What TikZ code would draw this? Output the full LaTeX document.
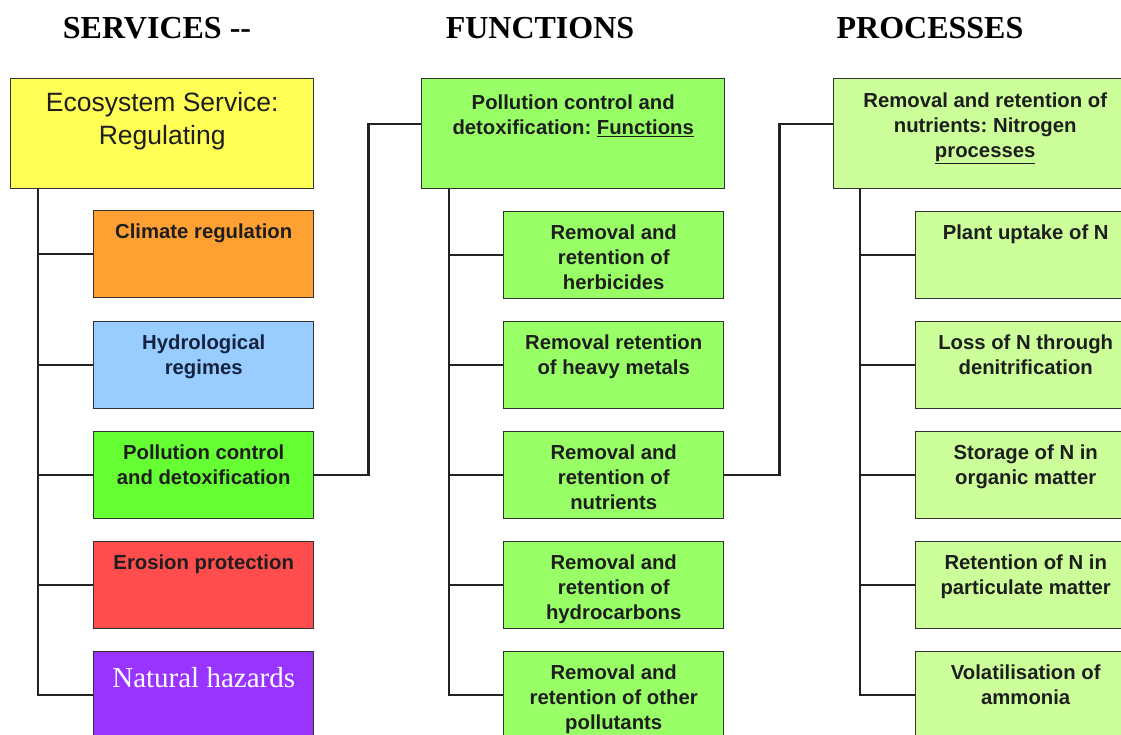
\documentclass[tikz,border=0pt]{standalone}
\usepackage{fontspec}
\setmainfont{Liberation Serif}
\newfontfamily\arialfont{Liberation Sans}
\frenchspacing

\definecolor{svcyellow}{HTML}{FFFF55}
\definecolor{climorange}{HTML}{FFA033}
\definecolor{hydroblue}{HTML}{99CCFF}
\definecolor{pollgreen}{HTML}{66FF33}
\definecolor{erosred}{HTML}{FF4D4D}
\definecolor{hazpurple}{HTML}{9933FF}
\definecolor{fungreen}{HTML}{99FF66}
\definecolor{procgreen}{HTML}{CCFF99}
\definecolor{boxline}{HTML}{333333}
\definecolor{linkline}{HTML}{222222}
\definecolor{boxtext}{HTML}{1E1E1E}
\definecolor{navytext}{HTML}{14233F}

\begin{document}
\begin{tikzpicture}[x=1pt,y=-1pt,
    heading/.style={anchor=base,font=\fontsize{32}{38}\selectfont\bfseries},
    parent/.style={draw=boxline,line width=1.4pt,anchor=north west,inner sep=0pt,text=boxtext,
        execute at begin node={\begin{minipage}[c][110pt][t]{303pt}\centering
            \arialfont\bfseries\fontsize{20.3}{25}\selectfont\rule{0pt}{29pt}},
        execute at end node={\end{minipage}}},
    leaf/.style={draw=boxline,line width=1.4pt,anchor=north west,inner sep=0pt,text=boxtext,
        execute at begin node={\begin{minipage}[c][87pt][t]{220pt}\centering
            \arialfont\bfseries\fontsize{20.3}{25}\selectfont\rule{0pt}{28pt}},
        execute at end node={\end{minipage}}},
    link/.style={draw=linkline,line width=2.4pt}]
    \clip (0,0) rectangle (1121,734);

    \node[heading] (hsvc) at (157,38) {SERVICES -{}-};
    \node[heading] (hfun) at (540,38) {FUNCTIONS};
    \node[heading] (hproc) at (930,38) {PROCESSES};

    % services
    \node[parent,fill=svcyellow] (ess) at (10,78)
        {\mdseries\fontsize{26.5}{33}\selectfont\rule{0pt}{33pt}Ecosystem Service:\\Regulating\par};
    \node[leaf,fill=climorange] (clim) at (93,210) {Climate regulation};
    \node[leaf,fill=hydroblue,text=navytext] (hydro) at (93,321) {Hydrological\\regimes};
    \node[leaf,fill=pollgreen] (poll) at (93,431) {Pollution control\\and detoxification};
    \node[leaf,fill=erosred] (eros) at (93,541) {Erosion protection};
    \node[leaf,fill=hazpurple,text=white] (haz) at (93,651)
        {\rmfamily\mdseries\fontsize{29}{34}\selectfont\rule{0pt}{36pt}Natural hazards\par};

    % functions
    \node[parent,fill=fungreen] (fun) at (421,78)
        {\rule{0pt}{31pt}Pollution control and\\detoxification: \underline{Functions}};
    \node[leaf,fill=fungreen] (herb) at (503,211) {Removal and\\retention of\\herbicides};
    \node[leaf,fill=fungreen] (metal) at (503,321) {Removal retention\\of heavy metals};
    \node[leaf,fill=fungreen] (nutr) at (503,431) {Removal and\\retention of\\nutrients};
    \node[leaf,fill=fungreen] (hydc) at (503,541) {Removal and\\retention of\\hydrocarbons};
    \node[leaf,fill=fungreen] (other) at (503,651) {Removal and\\retention of other\\pollutants};

    % processes
    \node[parent,fill=procgreen] (proc) at (833,78)
        {Removal and retention of\\nutrients: Nitrogen\\\underline{processes}};
    \node[leaf,fill=procgreen] (upt) at (915,211) {Plant uptake of N};
    \node[leaf,fill=procgreen] (denit) at (915,321) {Loss of N through\\denitrification};
    \node[leaf,fill=procgreen] (store) at (915,431) {Storage of N in\\organic matter};
    \node[leaf,fill=procgreen] (part) at (915,541) {Retention of N in\\particulate matter};
    \node[leaf,fill=procgreen] (vola) at (915,651) {Volatilisation of\\ammonia};

    \foreach \c in {clim,hydro,poll,eros,haz}
        \draw[link] ([xshift=28pt]ess.south west) |- (\c.west);
    \foreach \c in {herb,metal,nutr,hydc,other}
        \draw[link] ([xshift=28pt]fun.south west) |- (\c.west);
    \foreach \c in {upt,denit,store,part,vola}
        \draw[link] ([xshift=27pt]proc.south west) |- (\c.west);

    \draw[link] (poll.east) -- ++(54,0) |- ([yshift=10pt]fun.west);
    \draw[link] (nutr.east) -- ++(55,0) |- ([yshift=10pt]proc.west);
\end{tikzpicture}
\end{document}
